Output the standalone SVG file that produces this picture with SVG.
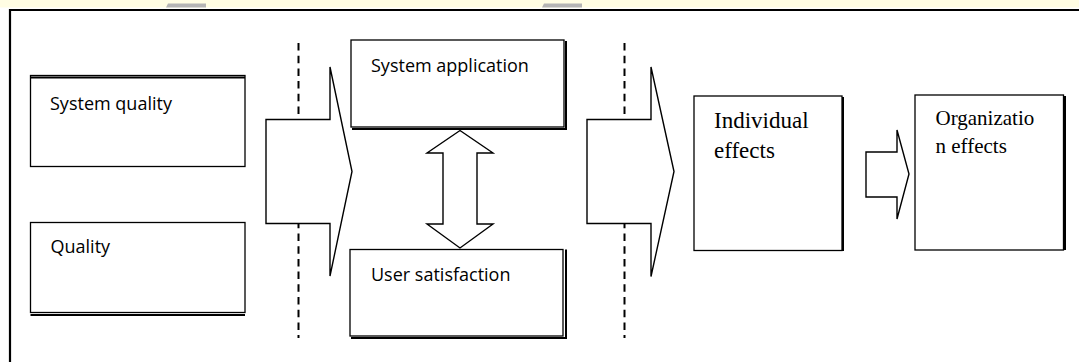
<svg xmlns="http://www.w3.org/2000/svg" width="1079" height="362" viewBox="0 0 1079 362">
  <style>
    .box { fill: #ffffff; stroke: #000000; stroke-width: 1.3; }
    .shadow { fill: none; stroke: #000000; stroke-width: 2; }
    .arrow { fill: #ffffff; stroke: #000000; stroke-width: 1.4; stroke-linejoin: miter; }
    .dash { fill: none; stroke: #000000; stroke-width: 2; stroke-dasharray: 7.5 5.2; }
    .sans { font-family: "Open Sans", "Noto Sans", "Liberation Sans", sans-serif; font-size: 18px; fill: #000000; }
    .serif { font-family: "Liberation Serif", "Times New Roman", serif; fill: #000000; }
  </style>
  <rect x="0" y="0" width="1079" height="362" fill="#ffffff"/>
  <rect x="0" y="0" width="1079" height="7.5" fill="#fffde3"/>
  <polygon points="168,3.5 206,3.5 206,7.5 166,7.5" fill="#b4b4b4"/>
  <polygon points="544,3.5 582,3.5 582,7.5 542,7.5" fill="#b4b4b4"/>
  <!-- outer frame -->
  <path d="M10,362 L10,10 L1079,10" fill="none" stroke="#000000" stroke-width="2.2"/>

  <g id="connectors">
    <line class="dash" x1="298.5" y1="43" x2="298.5" y2="338"/>
    <line class="dash" x1="624.5" y1="43" x2="624.5" y2="338"/>
    <polygon class="arrow" points="266,119.5 330,119.5 330,67 352,171.5 330,276 330,223.5 266,223.5"/>
    <polygon class="arrow" points="587,119.5 651,119.5 651,67 674,171.5 651,276.5 651,223.5 587,223.5"/>
    <polygon class="arrow" points="460,130.5 493,153 477,153 477,224 493,224 460,248 427,224 443,224 443,153 427,153"/>
    <polygon class="arrow" points="866,152 897,152 897,130 909,174 897,219 897,197 866,197"/>
  </g>

  <g id="system-quality">
    <rect class="box" x="30.5" y="75.5" width="214.5" height="91"/>
    <line class="shadow" x1="30.5" y1="77.5" x2="245" y2="77.5"/>
    <text class="sans" x="50" y="110">System quality</text>
  </g>

  <g id="quality">
    <rect class="box" x="30.5" y="222.5" width="214.5" height="90"/>
    <line class="shadow" x1="30.5" y1="315" x2="245" y2="315"/>
    <text class="sans" x="50.5" y="253">Quality</text>
  </g>

  <g id="system-application">
    <rect class="box" x="351" y="40" width="213" height="87"/>
    <path class="shadow" d="M566,41 L566,129 L352,129"/>
    <text class="sans" x="371" y="71.5">System application</text>
  </g>

  <g id="user-satisfaction">
    <rect class="box" x="350" y="249.5" width="213" height="86.5"/>
    <path class="shadow" d="M566,249.5 L566,338 L351,338"/>
    <text class="sans" x="371" y="281">User satisfaction</text>
  </g>

  <g id="individual-effects">
    <rect class="box" x="694" y="96" width="148" height="154.5"/>
    <line class="shadow" x1="843" y1="97" x2="843" y2="251"/>
    <text class="serif" font-size="23" x="714" y="128">Individual</text>
    <text class="serif" font-size="23" x="714" y="158">effects</text>
  </g>

  <g id="organization-effects">
    <rect class="box" x="915" y="95" width="148.5" height="155"/>
    <line class="shadow" x1="1065" y1="96" x2="1065" y2="250"/>
    <text class="serif" font-size="21" x="935.5" y="125">Organizatio</text>
    <text class="serif" font-size="21" x="935.5" y="153">n effects</text>
  </g>
</svg>
